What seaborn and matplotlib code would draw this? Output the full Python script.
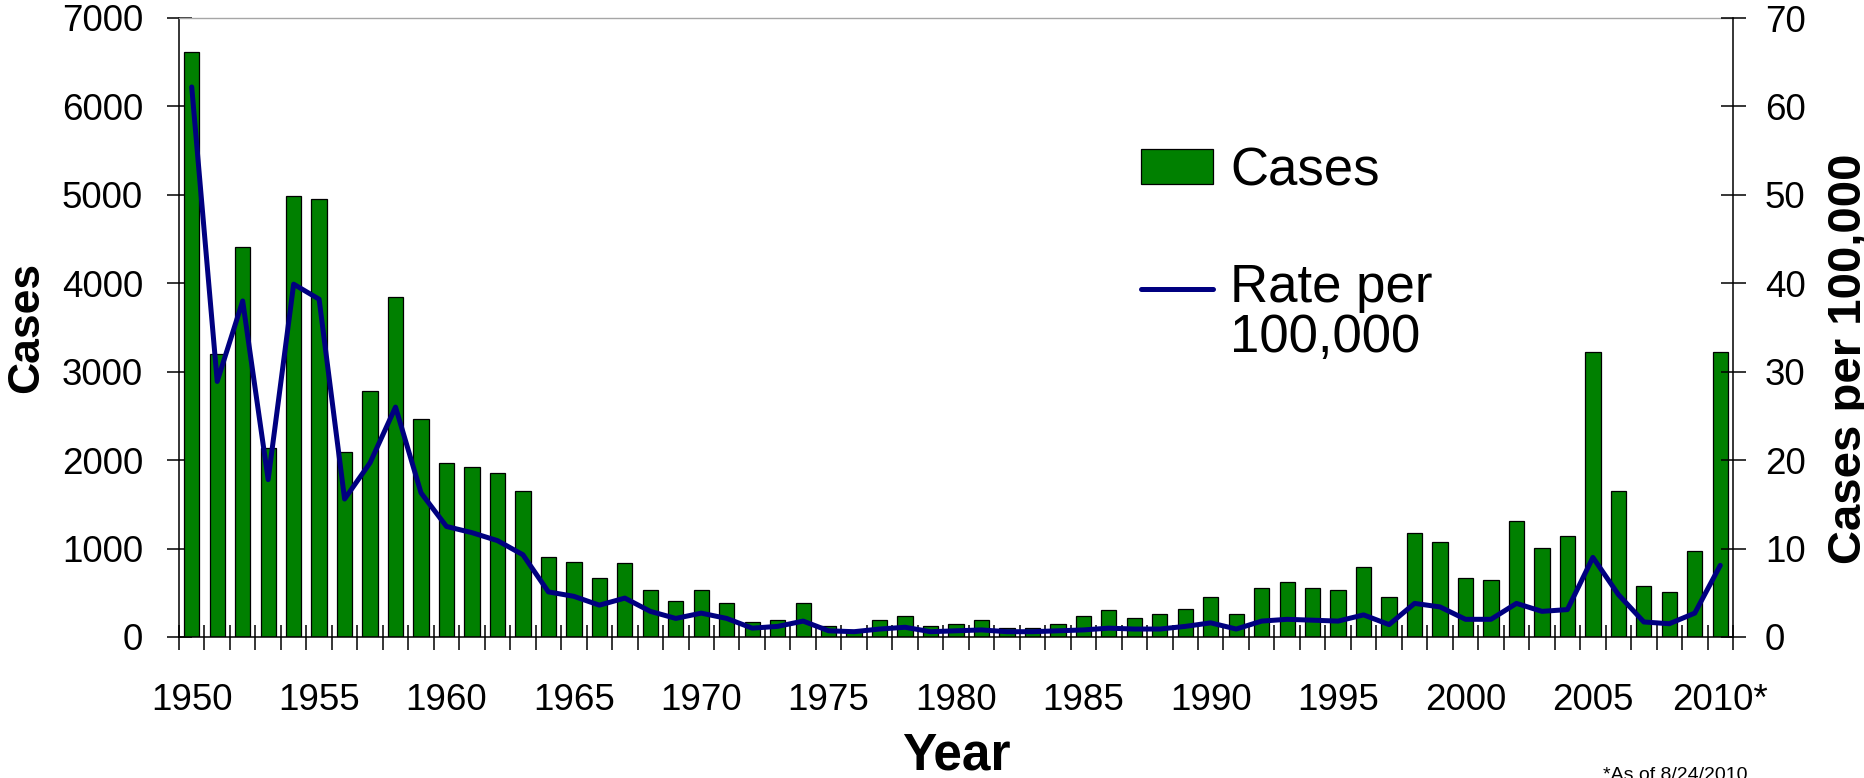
import numpy as np
import pandas as pd
import matplotlib
matplotlib.use("Agg")
import matplotlib.pyplot as plt
import seaborn as sns

# Annual pertussis counts and rate per 100,000 population
years = list(range(1950, 2011))
cases = [6610, 3200, 4410, 2140, 4990, 4950, 2090, 2780, 3850, 2460,
         1965, 1925, 1860, 1650, 910, 850, 671, 836, 536, 409,
         536, 386, 169, 191, 386, 128, 80, 191, 236, 128,
         150, 191, 105, 105, 150, 236, 300, 214, 259, 322,
         450, 259, 559, 622, 559, 536, 795, 450, 1181, 1072,
         667, 645, 1312, 1009, 1140, 3225, 1654, 581, 514, 967, 3225]
rate = [62.2, 28.9, 38.0, 17.8, 39.9, 38.2, 15.6, 19.7, 26.0, 16.3,
        12.5, 11.8, 10.9, 9.3, 5.1, 4.6, 3.6, 4.4, 2.9, 2.1,
        2.7, 2.1, 1.0, 1.2, 1.8, 0.7, 0.6, 0.9, 1.1, 0.6,
        0.7, 0.8, 0.6, 0.6, 0.7, 0.8, 1.0, 0.9, 0.9, 1.2,
        1.6, 0.9, 1.8, 2.0, 1.9, 1.8, 2.5, 1.4, 3.8, 3.4,
        2.0, 2.0, 3.8, 2.9, 3.1, 9.0, 4.8, 1.7, 1.5, 2.7, 8.1]
label_years = years[::5]
label_text = [str(y) for y in label_years[:-1]] + ["2010*"]
cases_ticks = list(range(0, 7001, 1000))
rate_ticks = list(range(0, 71, 10))

sns.set_theme(style="white")
plt.rcParams["font.family"] = ["Liberation Sans", "DejaVu Sans"]
plt.rcParams["text.color"] = "black"
plt.rcParams["axes.labelcolor"] = "black"
plt.rcParams["xtick.color"] = "black"
plt.rcParams["ytick.color"] = "black"

W, H = 1865, 778
fig = plt.figure(figsize=(W / 100, H / 100), dpi=100)
ax = fig.add_axes([179 / W, 1 - 637 / H, (1733 - 179) / W, (637 - 18) / H])

df = pd.DataFrame({"year": years, "cases": cases, "rate": rate})

sns.barplot(data=df, x="year", y="cases", native_scale=True, width=0.6,
            color="#008000", saturation=1, edgecolor="black", linewidth=0.9,
            ax=ax, label="Cases")
ax2 = ax.twinx()
sns.lineplot(data=df, x="year", y="rate", color="#000080", linewidth=3.6,
             ax=ax2, label="Rate per\n100,000")

for a in (ax, ax2):
    if a.get_legend() is not None:
        a.get_legend().remove()

# axes ranges and ticks
ax.set_xlim(1949.5, 2010.5)
ax.set_ylim(0, 7000)
ax2.set_ylim(0, 70)
ax.set_xticks(label_years)
ax.set_xticklabels(label_text)
ax.set_xticks(np.arange(1949.5, 2011, 1), minor=True)
ax.set_yticks(cases_ticks)
ax.set_yticklabels([str(v) for v in cases_ticks])
ax2.set_yticks(rate_ticks)
ax2.set_yticklabels([str(v) for v in rate_ticks])

ax.tick_params(axis="x", which="major", length=0, pad=33, labelsize=26.5,
               colors="black")
ax.tick_params(axis="x", which="minor", bottom=True, direction="inout",
               length=18, width=1.1, color="black")
ax.tick_params(axis="y", which="major", left=True, direction="inout",
               length=18, width=1.1, pad=17, labelsize=26.5, colors="black")
ax2.tick_params(axis="y", which="major", right=True, direction="inout",
                length=18, width=1.1, pad=14, labelsize=26.5, colors="black")

# spines
for s in ("left", "bottom"):
    ax.spines[s].set_color("black")
    ax.spines[s].set_linewidth(1.1)
ax.spines["top"].set_color("#a6a6a6")
ax.spines["top"].set_linewidth(1.0)
ax.spines["right"].set_visible(False)
for s in ("left", "top", "bottom"):
    ax2.spines[s].set_visible(False)
ax2.spines["right"].set_color("black")
ax2.spines["right"].set_linewidth(1.1)

# axis titles
ax.set_xlabel("Year", fontsize=37, fontweight="bold")
ax.xaxis.set_label_coords(0.5, -0.153)
ax.set_ylabel("Cases", fontsize=32, fontweight="bold")
ax.yaxis.set_label_coords(-0.085, 0.5)
ax2.set_ylabel("Cases per 100,000", fontsize=34, fontweight="bold")
ax2.yaxis.set_label_coords(1.0605, 0.45)

# legend
h1, l1 = ax.get_legend_handles_labels()
h2, l2 = ax2.get_legend_handles_labels()
leg = ax2.legend(h1 + h2, l1 + l2, loc="upper left",
                 bbox_to_anchor=(1141 / W, 1 - 146 / H),
                 bbox_transform=fig.transFigure, frameon=False, fontsize=38,
                 handlelength=1.37, handleheight=0.63, handletextpad=0.32,
                 labelspacing=1.27, borderpad=0, borderaxespad=0)
leg.get_texts()[1].set_linespacing(1.0)
line_handle = leg.legend_handles[1]
line_handle.set_ydata(np.asarray(line_handle.get_ydata()) + 18.5)

fig.text(1603 / W, 1 - 767 / H, "*As of 8/24/2010", fontsize=14,
         ha="left", va="top")

fig.savefig("out.png", dpi=100, facecolor="white")
